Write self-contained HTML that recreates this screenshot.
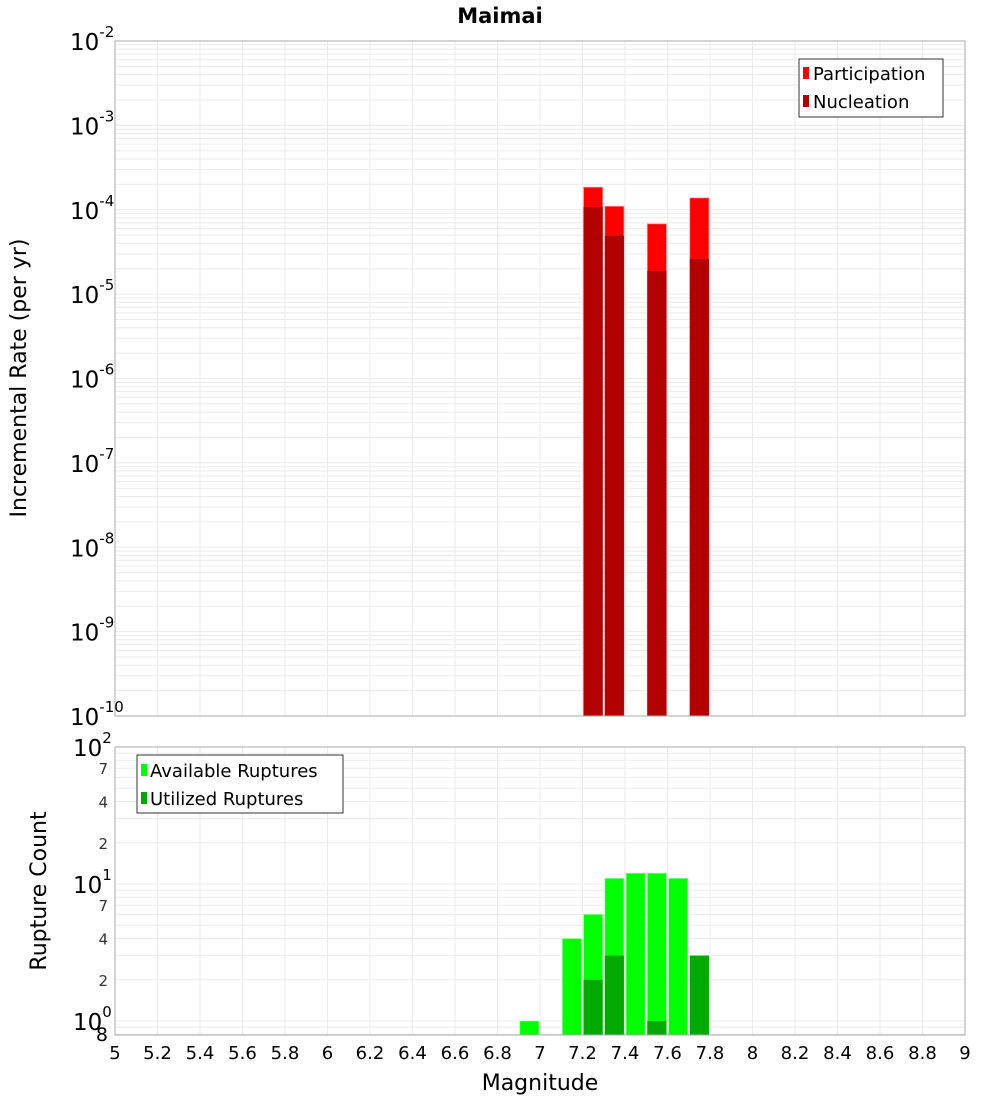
<!DOCTYPE html>
<html><head><meta charset="utf-8"><style>
body{margin:0;background:#fff;font-family:"Liberation Sans","DejaVu Sans",sans-serif}
</style></head><body>
<svg id="c" width="1000" height="1100" xmlns="http://www.w3.org/2000/svg" font-family="DejaVu Sans, Liberation Sans, sans-serif">
<rect width="1000" height="1100" fill="#fff"/>
<text x="500" y="23" text-anchor="middle" font-weight="bold" font-size="21">Maimai</text>
<g id="topg"></g><g id="botg"></g>
</svg>
<script>
const binCenters=[7.25,7.35,7.55,7.75];
const participation=[1.85e-4,1.1e-4,6.8e-5,1.38e-4];
const nucleation=[1.08e-4,4.9e-5,1.88e-5,2.6e-5];
const countCenters=[6.95,7.15,7.25,7.35,7.45,7.55,7.65,7.75];
const available=[1,4,6,11,12,12,11,3];
const utilized=[0,0,2,3,0,1,0,3];
const xTicks=[5,5.2,5.4,5.6,5.8,6,6.2,6.4,6.6,6.8,7,7.2,7.4,7.6,7.8,8,8.2,8.4,8.6,8.8,9];
const topDecades=[-2,-3,-4,-5,-6,-7,-8,-9,-10];
const botDecades=[2,1,0];
const botMinor=[7,4,2];

const NS="http://www.w3.org/2000/svg";
const L=115,R=965;
const X=m=>L+(m-5)*(R-L)/4;
const T0=41,T1=716,Ytop=v=>T0+(-2-Math.log10(v))*(T1-T0)/8;
const B0=747,BD=137,B1=1035,Ybot=v=>B0+(2-Math.log10(v))*BD;
function el(p,t,a,txt){const e=document.createElementNS(NS,t);for(const k in a)e.setAttribute(k,a[k]);if(txt!==undefined)e.textContent=txt;p.appendChild(e);return e;}
const gTop=document.getElementById('topg'),gBot=document.getElementById('botg');

for(let d=-10;d<-2;d++)for(let k=1;k<10;k++){const y=Ytop(k*Math.pow(10,d));
 const g=el(gTop,'line',{x1:L,x2:R,y1:y,y2:y,stroke:'#ebebeb','stroke-width':1});
 }
xTicks.forEach(t=>{const g=el(gTop,'line',{x1:X(t),x2:X(t),y1:T0,y2:T1,stroke:'#ebebeb'});
 });
const w=0.09*(R-L)/4;
binCenters.forEach((c,i)=>{
 const p=el(gTop,'rect',{x:X(c)-w/2,y:Ytop(participation[i]),width:w,height:T1-Ytop(participation[i]),fill:'#ff0000',stroke:'#ff9090','stroke-width':0.7});
 
 const n=el(gTop,'rect',{x:X(c)-w/2,y:Ytop(nucleation[i]),width:w,height:T1-Ytop(nucleation[i]),fill:'#b30000'});
 
});
el(gTop,'rect',{x:L,y:T0,width:R-L,height:T1-T0,fill:'none',stroke:'#aaa'});
topDecades.forEach(d=>{const y=Ytop(Math.pow(10,d));
 const t=el(gTop,'text',{x:70,y:y+9,'font-size':23});
 
 el(t,'tspan',{},'10');el(t,'tspan',{dy:-13,'font-size':15},String(d));});
const yt=el(gTop,'text',{transform:'translate(26,378) rotate(-90)','text-anchor':'middle','font-size':22});
yt.textContent='Incremental Rate (per yr)';

const lg=el(gTop,'g',{});
el(lg,'rect',{x:799,y:59,width:144,height:58,fill:'#fff',stroke:'#333'});
el(lg,'rect',{x:803,y:67,width:6,height:12,fill:'#ff0000'});
el(lg,'text',{x:813,y:80,'font-size':18},'Participation');
el(lg,'rect',{x:803,y:95,width:6,height:12,fill:'#b30000'});
el(lg,'text',{x:813,y:108,'font-size':18},'Nucleation');

for(let d=-1;d<2;d++)for(let k=1;k<10;k++){const y=Ybot(k*Math.pow(10,d));if(y>B1||y<B0)continue;
 const g=el(gBot,'line',{x1:L,x2:R,y1:y,y2:y,stroke:'#ebebeb'});
 }
xTicks.forEach(t=>{const g=el(gBot,'line',{x1:X(t),x2:X(t),y1:B0,y2:B1,stroke:'#ebebeb'});
 });
countCenters.forEach((c,i)=>{
 if(available[i]>0){const a=el(gBot,'rect',{x:X(c)-w/2,y:Ybot(available[i]),width:w,height:B1-Ybot(available[i]),fill:'#00ff00',stroke:'#a0ffa0','stroke-width':0.7});
 }
 if(utilized[i]>0){const u=el(gBot,'rect',{x:X(c)-w/2,y:Ybot(utilized[i]),width:w,height:B1-Ybot(utilized[i]),fill:'#00aa00'});
 }
});
el(gBot,'rect',{x:L,y:B0,width:R-L,height:B1-B0,fill:'none',stroke:'#aaa'});
botDecades.forEach(d=>{const y=Ybot(Math.pow(10,d));
 const t=el(gBot,'text',{x:73,y:y+9,'font-size':23});
 
 el(t,'tspan',{},'10');el(t,'tspan',{dy:-13,'font-size':15},String(d));});
[1,0].forEach(d=>botMinor.forEach(k=>{const y=Ybot(k*Math.pow(10,d));
 const t=el(gBot,'text',{x:108,y:y+6,'text-anchor':'end','font-size':15,fill:'#333'},String(k));
 }));
const e8=el(gBot,'text',{x:108,y:B1+6,'text-anchor':'end','font-size':19},'8');

xTicks.forEach(t=>{const s=el(gBot,'text',{x:X(t),y:1059,'text-anchor':'middle','font-size':18},String(t));
 });
const bt=el(gBot,'text',{transform:'translate(46,891) rotate(-90)','text-anchor':'middle','font-size':22},'Rupture Count');

const xt=el(gBot,'text',{x:540,y:1090,'text-anchor':'middle','font-size':22},'Magnitude');

const lg2=el(gBot,'g',{});
el(lg2,'rect',{x:137,y:755,width:206,height:58,fill:'#fff',stroke:'#333'});
el(lg2,'rect',{x:141,y:764,width:6,height:12,fill:'#00ff00'});
el(lg2,'text',{x:150,y:777,'font-size':18},'Available Ruptures');
el(lg2,'rect',{x:141,y:792,width:6,height:12,fill:'#00aa00'});
el(lg2,'text',{x:150,y:805,'font-size':18},'Utilized Ruptures');
</script>
</body></html>
